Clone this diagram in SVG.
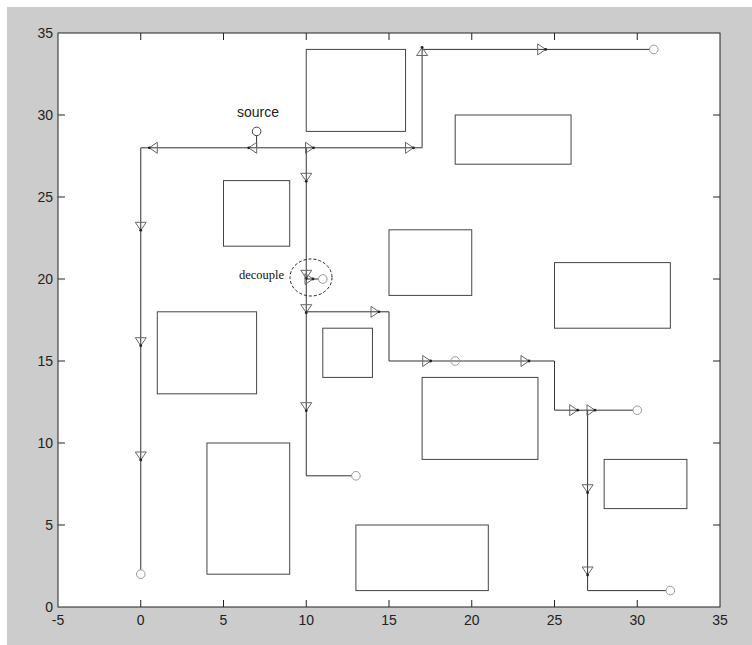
<svg xmlns="http://www.w3.org/2000/svg" xmlns:xlink="http://www.w3.org/1999/xlink" width="752" height="645" viewBox="0 0 752 645">
<style>
.obs{fill:none;stroke:#444;stroke-width:1}
.path{fill:none;stroke:#333;stroke-width:1}
.tri{fill:none;stroke:#666;stroke-width:1}
.dot{fill:#222}
.goal{fill:none;stroke:#999;stroke-width:1}
.src{fill:none;stroke:#444;stroke-width:1}
.tick{stroke:#222;stroke-width:1}
.lbl{font-family:"Liberation Sans",Arial,sans-serif;font-size:14px;fill:#222}
.ann{font-family:"Liberation Serif","Times New Roman",serif;font-size:12.5px;fill:#111}
</style>
<defs>
<g id="arr"><path class="tri" d="M0,0 L-8,-5.5 L-8,5.5 Z"/><circle class="dot" cx="0" cy="0" r="1.4"/></g>
</defs>
<rect x="0" y="0" width="752" height="645" fill="#ffffff"/>
<rect x="7" y="7" width="745" height="638" fill="#cccccc"/>
<g id="axes">
<rect x="58" y="33" width="662" height="574" fill="#ffffff" stroke="#222" stroke-width="1"/>
<g class="tick">
<path d="M140.75,607v-7M223.5,607v-7M306.25,607v-7M389,607v-7M471.75,607v-7M554.5,607v-7M637.25,607v-7"/>
<path d="M140.75,33v7M223.5,33v7M306.25,33v7M389,33v7M471.75,33v7M554.5,33v7M637.25,33v7"/>
<path d="M58,525h7M58,443h7M58,361h7M58,279h7M58,197h7M58,115h7"/>
<path d="M720,525h-7M720,443h-7M720,361h-7M720,279h-7M720,197h-7M720,115h-7"/>
</g>
<g class="lbl" text-anchor="middle">
<text x="58" y="625">-5</text><text x="140.75" y="625">0</text><text x="223.5" y="625">5</text><text x="306.25" y="625">10</text><text x="389" y="625">15</text><text x="471.75" y="625">20</text><text x="554.5" y="625">25</text><text x="637.25" y="625">30</text><text x="720" y="625">35</text>
</g>
<g class="lbl" text-anchor="end">
<text x="53" y="612">0</text><text x="53" y="530">5</text><text x="53" y="448">10</text><text x="53" y="366">15</text><text x="53" y="284">20</text><text x="53" y="202">25</text><text x="53" y="120">30</text><text x="53" y="38">35</text>
</g>
</g>
<g id="obstacles">
<rect id="obs1" class="obs" x="306.25" y="49.4" width="99.3" height="82"/>
<rect id="obs2" class="obs" x="455.2" y="115" width="115.85" height="49.2"/>
<rect id="obs3" class="obs" x="223.5" y="180.6" width="66.2" height="65.6"/>
<rect id="obs4" class="obs" x="389" y="229.8" width="82.75" height="65.6"/>
<rect id="obs5" class="obs" x="554.5" y="262.6" width="115.85" height="65.6"/>
<rect id="obs6" class="obs" x="157.3" y="311.8" width="99.3" height="82"/>
<rect id="obs7" class="obs" x="322.8" y="328.2" width="49.65" height="49.2"/>
<rect id="obs8" class="obs" x="422.1" y="377.4" width="115.85" height="82"/>
<rect id="obs9" class="obs" x="206.95" y="443" width="82.75" height="131.2"/>
<rect id="obs10" class="obs" x="604.15" y="459.4" width="82.75" height="49.2"/>
<rect id="obs11" class="obs" x="355.9" y="525" width="132.4" height="65.6"/>
</g>
<g id="connectors">
<path class="path" d="M256.6,135.7V147.8"/>
<path class="path" d="M140.75,147.8H422.1V49.4H649.5"/>
<path class="path" d="M140.75,147.8V569.9"/>
<path class="path" d="M306.25,147.8V475.8H351.6"/>
<path class="path" d="M306.25,279H318.5"/>
<path class="path" d="M306.25,311.8H389V361H554.5V410.2H633"/>
<path class="path" d="M587.6,410.2V590.6H666"/>
<g id="arrows">
<use xlink:href="#arr" transform="translate(149.3,147.8) rotate(180)"/>
<use xlink:href="#arr" transform="translate(248.7,147.8) rotate(180)"/>
<use xlink:href="#arr" transform="translate(313.5,147.8)"/>
<use xlink:href="#arr" transform="translate(413.5,147.8)"/>
<use xlink:href="#arr" transform="translate(422.1,47.5) rotate(-90)"/>
<use xlink:href="#arr" transform="translate(545.7,49.4)"/>
<use xlink:href="#arr" transform="translate(140.75,230.3) rotate(90)"/>
<use xlink:href="#arr" transform="translate(140.75,345.7) rotate(90)"/>
<use xlink:href="#arr" transform="translate(140.75,460) rotate(90)"/>
<use xlink:href="#arr" transform="translate(306.25,181.3) rotate(90)"/>
<use xlink:href="#arr" transform="translate(306.25,278.3) rotate(90)"/>
<use xlink:href="#arr" transform="translate(313,279)"/>
<use xlink:href="#arr" transform="translate(306.25,312.7) rotate(90)"/>
<use xlink:href="#arr" transform="translate(306.25,410.7) rotate(90)"/>
<use xlink:href="#arr" transform="translate(379,311.8)"/>
<use xlink:href="#arr" transform="translate(430.7,361)"/>
<use xlink:href="#arr" transform="translate(529,361)"/>
<use xlink:href="#arr" transform="translate(577.7,410.2)"/>
<use xlink:href="#arr" transform="translate(595,410.2)"/>
<use xlink:href="#arr" transform="translate(587.6,492.7) rotate(90)"/>
<use xlink:href="#arr" transform="translate(587.6,575) rotate(90)"/>
</g>
</g>
<g id="source">
<circle class="src" cx="256.6" cy="131.4" r="4.3"/>
<text class="lbl" x="258" y="117" text-anchor="middle">source</text>
</g>
<g id="goal1"><circle class="goal" cx="653.8" cy="49.4" r="4.3"/></g>
<g id="goal2"><circle class="goal" cx="140.75" cy="574.2" r="4.3"/></g>
<g id="goal3"><circle class="goal" cx="355.9" cy="475.8" r="4.3"/></g>
<g id="goal4"><circle class="goal" cx="322.8" cy="279" r="4.3"/></g>
<g id="goal5"><circle class="goal" cx="455.2" cy="361" r="4.3"/></g>
<g id="goal6"><circle class="goal" cx="637.25" cy="410.2" r="4.3"/></g>
<g id="goal7"><circle class="goal" cx="670.35" cy="590.6" r="4.3"/></g>
<g id="decouple">
<ellipse cx="311" cy="277.5" rx="21" ry="18.5" fill="none" stroke="#222" stroke-width="1" stroke-dasharray="3,2"/>
<text class="ann" x="239" y="279">decouple</text>
</g>
</svg>
